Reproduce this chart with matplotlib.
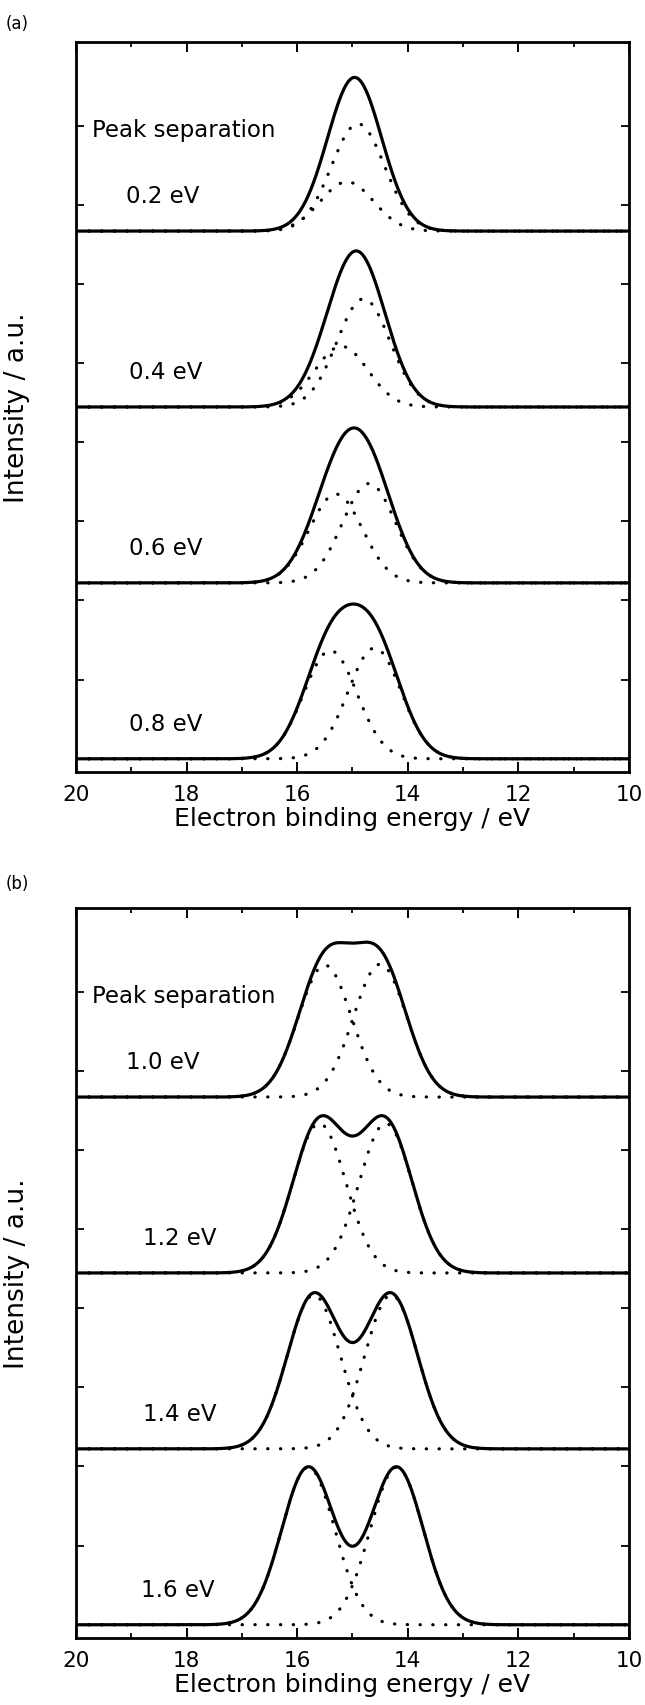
#!/usr/bin/env python3
import matplotlib
matplotlib.use("Agg")
import matplotlib.pyplot as plt
import numpy as np

# Peak separations (eV) for the two panels, top curve first
separations_a = [0.2, 0.4, 0.6, 0.8]
separations_b = [1.0, 1.2, 1.4, 1.6]

# Fitted component heights (units of curve spacing), higher / lower binding energy
amp_high_a = [0.28, 0.345, 0.505, 0.615]
amp_low_a = [0.61, 0.615, 0.565, 0.63]
amp_high_b = [0.75, 0.85, 0.875, 0.895]
amp_low_b = [0.755, 0.85, 0.875, 0.895]

center_energy = 15.0   # eV
sigma = 0.48           # eV, gaussian width of each component

x_ticks = [20, 18, 16, 14, 12, 10]
y_ticks = [0.45, 0.9, 1.35, 1.8, 2.25, 2.7, 3.15, 3.6]


def gauss(e, c, a):
    return a * np.exp(-(e - c) ** 2 / (2 * sigma ** 2))


def draw_panel(ax, seps, amp_hi, amp_lo, label_x):
    energy = np.linspace(20, 10, 1201)
    n = len(seps)
    for i, (sep, a_hi, a_lo) in enumerate(zip(seps, amp_hi, amp_lo)):
        offset = n - 1 - i
        comp_hi = gauss(energy, center_energy + sep / 2, a_hi)
        comp_lo = gauss(energy, center_energy - sep / 2, a_lo)
        for comp in (comp_hi, comp_lo):
            ax.plot(energy, comp + offset, color='black', lw=2.3,
                    linestyle=(0, (0.1, 3.9)), dash_capstyle='round', zorder=2)
        ax.plot(energy, comp_hi + comp_lo + offset, color='black', lw=2.3, zorder=3)
        ax.text(label_x[i], offset + 0.2, f'{sep:.1f} eV', fontsize=16.5,
                ha='left', va='center')
    ax.text(19.71, n - 1 + 0.58, 'Peak separation', fontsize=16.5,
            ha='left', va='center')

    ax.set_xlim(20, 10)
    ax.set_ylim(-0.075, 4.075)
    ax.set_xticks(x_ticks)
    ax.set_xticks([19, 17, 15, 13, 11], minor=True)
    ax.set_yticks(y_ticks)
    ax.set_yticklabels([])
    ax.tick_params(axis='x', which='major', direction='in', top=True, length=7,
                   width=1.4, labelsize=15.5, pad=9)
    ax.tick_params(axis='x', which='minor', direction='in', top=True, length=3.5,
                   width=1.3)
    ax.tick_params(axis='y', which='major', direction='in', right=True, length=5.5,
                   width=1.3)
    for sp in ax.spines.values():
        sp.set_linewidth(2.0)
    ax.set_xlabel('Electron binding energy / eV', fontsize=18)
    ax.xaxis.set_label_coords(0.5, -0.046)
    ax.set_ylabel('Intensity / a.u.', fontsize=19)
    ax.yaxis.set_label_coords(-0.083, 0.5)


fig = plt.figure(figsize=(6.45, 17.06), dpi=100)
ax_a = fig.add_axes([0.1178, 0.5469, 0.8574, 0.4279])
ax_b = fig.add_axes([0.1178, 0.0393, 0.8574, 0.4279])

draw_panel(ax_a, separations_a, amp_high_a, amp_low_a, [19.1, 19.05, 19.05, 19.05])
draw_panel(ax_b, separations_b, amp_high_b, amp_low_b, [19.1, 18.78, 18.78, 18.82])

fig.text(0.008, 1 - 24 / 1706, '(a)', fontsize=12, ha='left', va='center')
fig.text(0.008, 1 - 884 / 1706, '(b)', fontsize=12, ha='left', va='center')

fig.savefig('out.png', dpi=100)
plt.close(fig)
